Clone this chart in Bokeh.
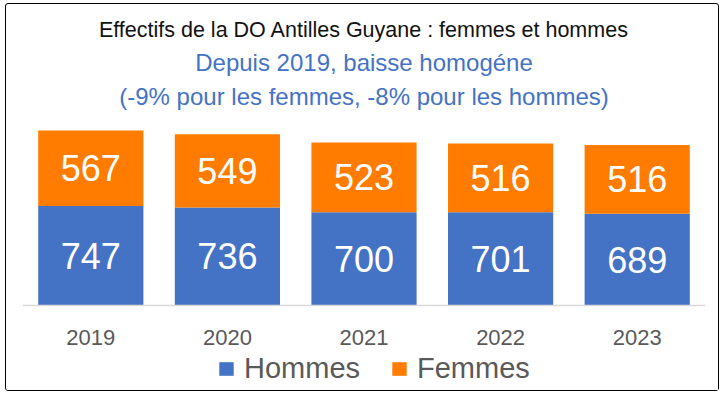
from bokeh.plotting import figure
from bokeh.models import ColumnDataSource, Range1d, Title, Legend, LegendItem, Span
from bokeh.core.properties import value
from bokeh.embed import file_html
from bokeh.resources import INLINE

years = ["2019", "2020", "2021", "2022", "2023"]
hommes = [747, 736, 700, 701, 689]
femmes = [567, 549, 523, 516, 516]

title_1 = "Effectifs de la DO Antilles Guyane : femmes et hommes"
title_2 = "Depuis 2019, baisse homogéne"
title_3 = "(-9% pour les femmes, -8% pour les hommes)"

BLUE = "#4472C4"
ORANGE = "#FF7C00"
GREY = "#595959"
FONT = "Liberation Sans"

source = ColumnDataSource(dict(
    years=years,
    hommes=hommes,
    femmes=femmes,
    base=[0] * len(years),
    hommes_mid=[h / 2 for h in hommes],
    femmes_mid=[h + f / 2 for h, f in zip(hommes, femmes)],
    hommes_lbl=[str(h) for h in hommes],
    femmes_lbl=[str(f) for f in femmes],
))

# frame extends below the baseline to host the category labels and the legend
p = figure(x_range=years, y_range=Range1d(-623, 1449),
           frame_width=683, frame_height=276,
           output_backend="svg", toolbar_location=None,
           min_border_left=16, min_border_right=13, min_border_top=0, min_border_bottom=2)

rs = p.vbar_stack(["hommes", "femmes"], x="years", width=0.77, color=[BLUE, ORANGE],
                  line_color=None, source=source)

for ycol, tcol in (("hommes_mid", "hommes_lbl"), ("femmes_mid", "femmes_lbl")):
    p.text(x="years", y=ycol, text=tcol, source=source, text_align="center",
           text_baseline="middle", text_color="white", text_font=value(FONT),
           text_font_size="36px")

# category labels under the baseline
p.text(x="years", y="base", text="years", source=source, y_offset=32,
       text_align="center", text_baseline="middle", text_color=GREY,
       text_font=value(FONT), text_font_size="22px")

p.add_layout(Span(location=0, dimension="width", line_color="#d9d9d9", line_width=1.5))

p.axis.visible = False
p.xgrid.grid_line_color = None
p.ygrid.grid_line_color = None
p.outline_line_color = None

for txt, col, size, stand in ((title_3, BLUE, "24px", 6), (title_2, BLUE, "24px", 4), (title_1, "#111111", "21.5px", 6)):
    p.add_layout(Title(text=txt, align="center", text_font_size=size, text_color=col,
                       text_font=FONT, text_font_style="normal", standoff=stand), "above")

legend = Legend(items=[LegendItem(label="Hommes", renderers=[rs[0]]),
                       LegendItem(label="Femmes", renderers=[rs[1]])],
                orientation="horizontal", location=(195, 3),
                label_text_font_size="29px", label_text_color=GREY, label_text_font=FONT,
                glyph_width=18, glyph_height=17, spacing=30, label_standoff=9,
                border_line_color=None, background_fill_alpha=0, padding=0, margin=0)
p.add_layout(legend)

p.styles = {"border": "1.5px solid #000", "border-radius": "3px", "margin": "3px 0 0 5px",
            "padding-top": "8px"}

open("out.html", "w").write(file_html(p, INLINE))
